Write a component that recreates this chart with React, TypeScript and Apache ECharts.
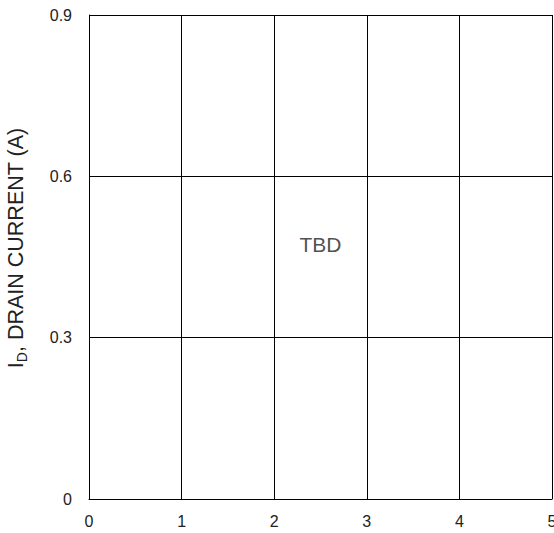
import React, { useEffect, useRef } from "react";
import * as echarts from "echarts";

const xTicks = [0, 1, 2, 3, 4, 5];
const yTicks = [0, 0.3, 0.6, 0.9];
const noteText = "TBD";
const notePoint: [number, number] = [2.5, 0.474];
const yName = "{main|I}{sub|D}{main|, DRAIN CURRENT (A)}";

export default function App() {
  const ref = useRef<HTMLDivElement>(null);
  useEffect(() => {
    if (!ref.current) return;
    document.body.style.margin = "0";
    const chart = echarts.init(ref.current, null, { renderer: "svg" });
    const font = "'Liberation Sans', Arial, sans-serif";
    chart.setOption({
      animation: false,
      grid: {
        left: 89,
        right: 2,
        top: 15,
        bottom: 34,
        containLabel: false,
        outerBoundsMode: "none",
      },
      xAxis: {
        type: "value",
        min: xTicks[0],
        max: xTicks[xTicks.length - 1],
        interval: 1,
        axisLine: { show: true, lineStyle: { color: "#000", width: 1 } },
        axisTick: { show: false },
        axisLabel: { color: "#222", fontSize: 16, fontFamily: font, margin: 14 },
        splitLine: { show: true, lineStyle: { color: "#000", width: 1 } },
      },
      yAxis: {
        type: "value",
        min: yTicks[0],
        max: yTicks[yTicks.length - 1],
        interval: 0.3,
        name: yName,
        nameLocation: "middle",
        nameGap: 60,
        nameTextStyle: {
          padding: [0, 0, 0, 18],
          rich: {
            main: { fontSize: 21.5, fontFamily: font, color: "#222" },
            sub: {
              fontSize: 14,
              fontFamily: font,
              color: "#222",
              verticalAlign: "bottom",
              padding: [12, 0, 0, 0],
            },
          },
        },
        axisLine: { show: true, lineStyle: { color: "#000", width: 1 } },
        axisTick: { show: false },
        axisLabel: {
          color: "#222",
          fontSize: 16,
          fontFamily: font,
          margin: 17,
          formatter: (v: number) => (v === 0 ? "0" : v.toFixed(1)),
        },
        splitLine: { show: true, lineStyle: { color: "#000", width: 1 } },
      },
      series: [
        {
          type: "scatter",
          data: [notePoint],
          symbolSize: 0,
          silent: true,
          label: {
            show: true,
            position: "inside",
            formatter: noteText,
            fontSize: 21,
            fontFamily: font,
            color: "#222",
          },
        },
      ],
    });
    return () => chart.dispose();
  }, []);
  return <div ref={ref} style={{ width: 554, height: 533 }} />;
}
